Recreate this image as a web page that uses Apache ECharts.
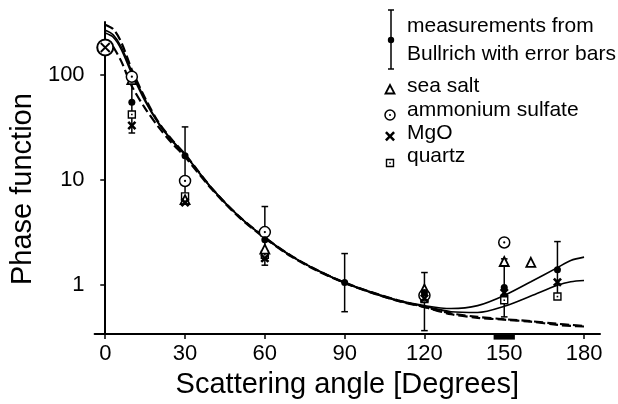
<!DOCTYPE html>
<html>
<head>
<meta charset="utf-8">
<script src="https://cdn.jsdelivr.net/npm/echarts@6/dist/echarts.min.js"></script>
</head>
<body style="margin:0;background:#fff">
<div id="main" style="width:618px;height:404px"></div>
<script type="text/javascript">
var FONT = '"Liberation Sans", Arial, Helvetica, sans-serif';

// x / y tick labels
var xTicks = [0, 30, 60, 90, 120, 150, 180];
var yTicks = [1, 10, 100];

// model curves
var curveAngles = [0, 3, 6, 10, 15, 20, 25, 30, 40, 50, 60, 70, 80, 90, 100, 110, 120, 130, 140, 150, 160, 170, 175, 180];
var solidUpper = [265, 240, 185, 108, 58, 35, 24, 17.5, 8.4, 4.6, 2.85, 1.9, 1.38, 1.06, 0.86, 0.72, 0.64, 0.6, 0.64, 0.8, 1.08, 1.47, 1.72, 1.85];
var solidLower = [250, 228, 175, 102, 56, 34.5, 23.7, 17.3, 8.3, 4.55, 2.82, 1.88, 1.37, 1.05, 0.85, 0.71, 0.63, 0.56, 0.55, 0.63, 0.79, 1.0, 1.08, 1.11];
var dashUpper = [300, 272, 205, 112, 60, 35.5, 24.3, 17.6, 8.4, 4.6, 2.85, 1.9, 1.38, 1.06, 0.86, 0.72, 0.62, 0.53, 0.49, 0.47, 0.45, 0.42, 0.41, 0.405];
var dashLower = [null, 185, 135, 78, 48, 32, 22.5, 16.6, 8.2, 4.5, 2.8, 1.87, 1.36, 1.05, 0.85, 0.71, 0.62, 0.54, 0.5, 0.475, 0.455, 0.43, 0.42, 0.41];

// Bullrich measurements with error bars
var measAngles = [10, 30, 60, 90, 120, 150, 170];
var bullrich = [55, 17, 2.7, 1.06, 0.85, 0.95, 1.4];
var errLow = [28, 6, 1.55, 0.56, 0.37, 0.5, 0.8];
var errHigh = [92, 32, 5.6, 2.0, 1.32, 1.78, 2.6];

// aerosol types
var seaSalt = [[10, 90], [30, 6.5], [60, 2.2], [120, 0.92], [150, 1.68], [160, 1.65]];
var ammoniumSulfate = [[10, 96], [30, 9.8], [60, 3.2], [120, 0.8], [150, 2.55]];
var mgo = [[10, 33], [30, 6.1], [60, 1.8], [120, 0.75], [150, 0.85], [170, 1.07]];
var quartz = [[10, 42], [30, 7.0], [60, 1.95], [120, 0.74], [150, 0.72], [170, 0.78]];
var forwardPeak = [[0, 182]];

// marked angle range under the axis
var rangeBar = [[146, 154]];

function pairs(xs, ys) {
    return xs.map(function (x, i) { return [x, ys[i]]; });
}

var crossPath = 'path://M0,2L2,0L5,3L8,0L10,2L7,5L10,8L8,10L5,7L2,10L0,8L3,5Z';
var thinCross = 'path://M0,0L10,10M10,0L0,10';

var myChart = echarts.init(document.getElementById('main'));

function curve(data, dashed) {
    return {
        type: 'line',
        data: data,
        showSymbol: false,
        smooth: 0.3,
        connectNulls: false,
        silent: true,
        z: 2,
        lineStyle: dashed ? { color: '#000', width: 2.2, type: [9, 4] } : { color: '#000', width: 1.6 }
    };
}

var legendText = { fontFamily: FONT, fontSize: 21, fill: '#000', verticalAlign: 'middle' };
function lt(txt, y) {
    return { type: 'text', x: 407, y: y, style: Object.assign({ text: txt }, legendText) };
}

var option = {
    animation: false,
    backgroundColor: '#fff',
    grid: { left: 92, right: 18, top: 22, bottom: 69 },
    xAxis: {
        type: 'value',
        min: -4,
        max: 186,
        name: 'Scattering angle [Degrees]',
        nameLocation: 'middle',
        nameGap: 35,
        nameTextStyle: { fontFamily: FONT, fontSize: 29, color: '#000' },
        axisLine: { onZero: false, lineStyle: { color: '#000', width: 2 } },
        axisTick: { length: 5, lineStyle: { color: '#000', width: 1.5 }, customValues: xTicks },
        axisLabel: { margin: 9, fontFamily: FONT, fontSize: 22, color: '#000', customValues: xTicks },
        splitLine: { show: false }
    },
    yAxis: {
        type: 'log',
        min: 0.343,
        max: 318,
        name: 'Phase function',
        nameLocation: 'middle',
        nameRotate: 90,
        nameGap: 56,
        nameTextStyle: { fontFamily: FONT, fontSize: 29, color: '#000', padding: [0, 22, 0, 0] },
        axisLine: { show: true, lineStyle: { color: '#000', width: 2 } },
        axisTick: { length: 5, lineStyle: { color: '#000', width: 1.5 }, customValues: yTicks },
        axisLabel: { margin: 10, fontFamily: FONT, fontSize: 22, color: '#000', customValues: yTicks },
        splitLine: { show: false }
    },
    graphic: [
        { type: 'line', shape: { x1: 391, y1: 10, x2: 391, y2: 69 }, style: { stroke: '#000', lineWidth: 1.5 } },
        { type: 'line', shape: { x1: 388, y1: 10, x2: 394, y2: 10 }, style: { stroke: '#000', lineWidth: 1.5 } },
        { type: 'line', shape: { x1: 388, y1: 69, x2: 394, y2: 69 }, style: { stroke: '#000', lineWidth: 1.5 } },
        { type: 'circle', shape: { cx: 391, cy: 40, r: 3.2 }, style: { fill: '#000' } },
        lt('measurements from', 26),
        lt('Bullrich with error bars', 54),
        { type: 'polygon', shape: { points: [[390, 85], [385.5, 93.5], [394.5, 93.5]] }, style: { fill: '#fff', stroke: '#000', lineWidth: 1.8 } },
        lt('sea salt', 86),
        { type: 'circle', shape: { cx: 390, cy: 115, r: 5 }, style: { fill: '#fff', stroke: '#000', lineWidth: 1.5 } },
        { type: 'circle', shape: { cx: 390, cy: 115, r: 1 }, style: { fill: '#000' } },
        lt('ammonium sulfate', 110),
        { type: 'polygon', shape: { points: [[385, 133], [386.8, 131.2], [390, 134.4], [393.2, 131.2], [395, 133], [391.8, 136.2], [395, 139.4], [393.2, 141.2], [390, 138], [386.8, 141.2], [385, 139.4], [388.2, 136.2]] }, style: { fill: '#000' } },
        lt('MgO', 133),
        { type: 'rect', shape: { x: 386.5, y: 159.5, width: 7, height: 7 }, style: { fill: '#fff', stroke: '#000', lineWidth: 1.4 } },
        { type: 'rect', shape: { x: 389.2, y: 162.2, width: 1.6, height: 1.6 }, style: { fill: '#000' } },
        lt('quartz', 156)
    ],
    series: [
        curve(pairs(curveAngles, solidUpper), false),
        curve(pairs(curveAngles, solidLower), false),
        curve(pairs(curveAngles, dashUpper), true),
        curve(pairs(curveAngles, dashLower), true),
        {
            type: 'custom',
            data: measAngles.map(function (a, i) { return [a, errLow[i], errHigh[i]]; }),
            encode: { x: 0, y: [1, 2] },
            z: 3,
            silent: true,
            renderItem: function (params, api) {
                var lo = api.coord([api.value(0), api.value(1)]);
                var hi = api.coord([api.value(0), api.value(2)]);
                var w = 3.3;
                var st = { stroke: '#000', lineWidth: 1.5 };
                return {
                    type: 'group',
                    children: [
                        { type: 'line', shape: { x1: lo[0], y1: lo[1], x2: hi[0], y2: hi[1] }, style: st },
                        { type: 'line', shape: { x1: lo[0] - w, y1: lo[1], x2: lo[0] + w, y2: lo[1] }, style: st },
                        { type: 'line', shape: { x1: hi[0] - w, y1: hi[1], x2: hi[0] + w, y2: hi[1] }, style: st }
                    ]
                };
            }
        },
        {
            type: 'custom',
            data: rangeBar,
            clip: false,
            silent: true,
            z: 5,
            renderItem: function (params, api) {
                var a = api.coord([api.value(0), 0.343]);
                var b = api.coord([api.value(1), 0.343]);
                return { type: 'rect', shape: { x: a[0], y: a[1] + 0.5, width: b[0] - a[0], height: 5 }, style: { fill: '#000' } };
            }
        },
        {
            type: 'scatter', data: quartz, symbol: 'rect', symbolSize: 7, z: 4, silent: true,
            itemStyle: { color: '#fff', borderColor: '#000', borderWidth: 1.4, opacity: 1 }
        },
        {
            type: 'scatter', data: quartz, symbol: 'rect', symbolSize: 1.6, z: 5, silent: true,
            itemStyle: { color: '#000', opacity: 1 }
        },
        {
            type: 'scatter', data: seaSalt, symbol: 'triangle', symbolSize: 9, z: 4, silent: true,
            itemStyle: { color: '#fff', borderColor: '#000', borderWidth: 1.8, opacity: 1 }
        },
        {
            type: 'scatter', data: ammoniumSulfate, symbol: 'circle', symbolSize: 11, z: 4, silent: true,
            itemStyle: { color: '#fff', borderColor: '#000', borderWidth: 1.5, opacity: 1 }
        },
        {
            type: 'scatter', data: ammoniumSulfate, symbol: 'circle', symbolSize: 2.2, z: 5, silent: true,
            itemStyle: { color: '#000', opacity: 1 }
        },
        {
            type: 'scatter', data: mgo, symbol: crossPath, symbolSize: 9, z: 5, silent: true,
            itemStyle: { color: '#000', opacity: 1 }
        },
        {
            type: 'scatter', data: bullrich.map(function (v, i) { return [measAngles[i], v]; }),
            symbol: 'circle', symbolSize: 7, z: 6, silent: true,
            itemStyle: { color: '#000', opacity: 1 }
        },
        {
            type: 'scatter', data: forwardPeak, symbol: 'circle', symbolSize: 16, z: 6, silent: true,
            itemStyle: { color: '#fff', borderColor: '#000', borderWidth: 2, opacity: 1 }
        },
        {
            type: 'scatter', data: forwardPeak, symbol: thinCross, symbolSize: 9, z: 7, silent: true,
            itemStyle: { color: 'none', borderColor: '#000', borderWidth: 1.8, opacity: 1 }
        }
    ]
};

myChart.setOption(option);
</script>
</body>
</html>
